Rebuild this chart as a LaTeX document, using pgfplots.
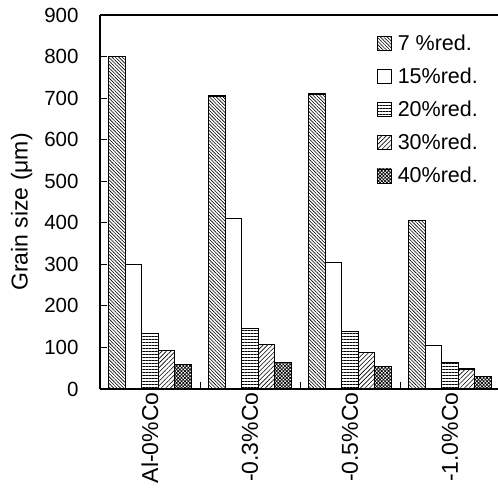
\documentclass[border=0pt]{standalone}
\usepackage{pgfplots}
\pgfplotsset{compat=1.18}
\usetikzlibrary{patterns.meta}
\usepackage{fontspec}
\setmainfont{Liberation Sans}
\tikzset{
 p7/.style={pattern={Lines[angle=-45,distance=2.4bp,line width=0.6bp]}},
 p15/.style={fill=white},
 p20/.style={pattern={Lines[angle=0,distance=3bp,line width=0.6bp]}},
 p30/.style={pattern={Lines[angle=45,distance=3.2bp,line width=0.6bp]}},
 p40/.style={pattern={Hatch[angle=45,distance=2.4bp,line width=0.7bp]}},
}
\begin{document}
\begin{tikzpicture}
\begin{axis}[
 scale only axis, width=398bp, height=374bp,
 xmin=-0.5, xmax=3.48, ymin=0, ymax=900,
 axis x line*=bottom, axis y line*=left,
 axis line style={line width=1.2bp},
 every tick/.style={line width=1bp, black},
 tick align=inside, major tick length=7bp,
 ytick={0,100,...,900},
 /pgf/number format/assume math mode=true,
 yticklabel style={xshift=-18bp, font=\fontsize{20.5bp}{24bp}\selectfont},
 xtick={0.5,1.5,2.5}, xticklabels={},
 extra x ticks={0,1,2,3},
 extra x tick labels={Al-0\%Co,-0.3\%Co,-0.5\%Co,-1.0\%Co},
 extra x tick style={major tick length=0pt, xticklabel style={rotate=90, anchor=east, font=\fontsize{23bp}{26bp}\selectfont}},
 ylabel={Grain size (μm)},
 ylabel style={font=\fontsize{23bp}{26bp}\selectfont, xshift=-10bp, yshift=5bp},
 legend style={at={(rel axis cs:0.695,0.952)}, anchor=north west, draw=none, fill=none, font=\fontsize{21.5bp}{25bp}\selectfont, row sep=12bp, inner sep=0pt},
 legend cell align=left,
 legend image code/.code={\draw[#1, line width=0.8bp] (0bp,-7bp) rectangle (14bp,7bp); \path (18bp,0bp);},
 bar width=0.165,
]
\addplot[ybar, bar shift=-0.33, draw=black, line width=1.1bp, p7] coordinates {(0,800) (1,705) (2,710) (3,405)};
\addplot[ybar, bar shift=-0.165, draw=black, line width=1.1bp, p15] coordinates {(0,300) (1,410) (2,305) (3,105)};
\addplot[ybar, bar shift=0, draw=black, line width=1.1bp, p20] coordinates {(0,133) (1,145) (2,138) (3,63)};
\addplot[ybar, bar shift=0.165, draw=black, line width=1.1bp, p30] coordinates {(0,92) (1,106) (2,87) (3,48)};
\addplot[ybar, bar shift=0.33, draw=black, line width=1.1bp, p40] coordinates {(0,60) (1,63) (2,54) (3,29)};
\legend{7 \%red.,15\%red.,20\%red.,30\%red.,40\%red.}
\draw[line width=1.2bp] (rel axis cs:0,1) -- (rel axis cs:1,1);
\coordinate (bl) at (rel axis cs:0,0);
\coordinate (tr) at (rel axis cs:1,1);
\end{axis}
\pgfresetboundingbox
\path ([shift={(-100bp,-106bp)}]bl) rectangle ([shift={(0bp,15bp)}]tr);
\end{tikzpicture}
\end{document}
